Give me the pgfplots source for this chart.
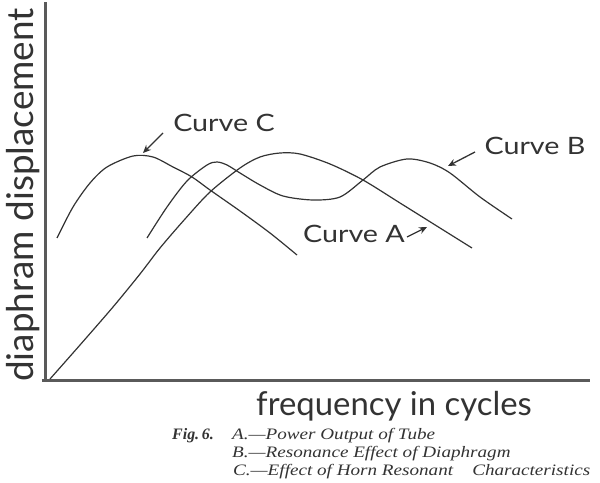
\documentclass[border=0pt]{standalone}
\usepackage{pgfplots}
\pgfplotsset{compat=1.18}
\usepackage{fontspec}
\setmainfont{Liberation Serif}
\newfontfamily\hand{Lato}
\usetikzlibrary{arrows.meta}
\definecolor{ink}{HTML}{333333}
\definecolor{axisink}{HTML}{5A5A5A}
\begin{document}
\begin{tikzpicture}
\begin{axis}[
  x=1bp, y=1bp,
  xmin=46, xmax=590, ymin=0, ymax=378,
  hide axis, clip=false,
]
\path (axis cs:0,-103) rectangle (axis cs:600,380);
% axes
\draw[line width=3bp, axisink] (axis cs:45.5,-1) -- (axis cs:45.5,378);
\draw[line width=3bp, axisink] (axis cs:42,-1) -- (axis cs:590,-1);
% Curve A
\addplot[ink, line width=1.2bp, smooth, tension=0.5] coordinates {
(50,1) (80,35) (113,73) (140,106) (160,132) (185,161) (210,188) (240,212) (260,223) (280,227) (300,226) (330,216) (363,200) (400,177) (440,152) (472,132)};
% Curve B
\addplot[ink, line width=1.2bp, smooth, tension=0.5] coordinates {
(147,142) (167,173) (187,199) (207,215) (217,218) (227,215) (240,207) (260,195) (283,184) (313,180) (340,183) (363,200) (380,213) (407,221) (430,217) (450,207) (480,183) (512,161)};
% Curve C
\addplot[ink, line width=1.2bp, smooth, tension=0.5] coordinates {
(57,142) (73,173) (90,197) (107,213) (133,224) (153,223) (173,213) (192,203) (210,190) (240,169) (270,147) (297,125)};
% labels
\begin{scope}[every node/.style={ink, font=\hand\fontsize{24}{24}\selectfont}]
\node at (axis cs:224,257) {\scalebox{1.2}[1]{Curve C}};
\node at (axis cs:535,234) {\scalebox{1.2}[1]{Curve B}};
\node at (axis cs:354,146) {\scalebox{1.2}[1]{Curve A}};
\end{scope}
\draw[ink, line width=1.3bp, -{Stealth[length=8bp,width=7bp]}] (axis cs:163,247) -- (axis cs:143,227);
\draw[ink, line width=1.3bp, -{Stealth[length=8bp,width=7bp]}] (axis cs:475,228) -- (axis cs:448,214);
\draw[ink, line width=1.3bp, -{Stealth[length=8bp,width=7bp]}] (axis cs:407,143) -- (axis cs:427,153);
% axis labels
\node[ink, rotate=90, font=\hand\fontsize{37}{37}\selectfont] at (axis cs:23,185) {diaphram displacement};
\node[ink, font=\hand\fontsize{33}{33}\selectfont] at (axis cs:394,-26) {frequency in cycles};
% caption
\begin{scope}[every node/.style={ink, anchor=base west, inner sep=0pt, font=\itshape\fontsize{16}{16}\selectfont}]
\node at (axis cs:172,-59) {\textbf{Fig.\,6.}};
\node at (axis cs:232,-59) {\scalebox{1.2}[1]{A.---Power Output of Tube}};
\node at (axis cs:232,-77) {\scalebox{1.2}[1]{B.---Resonance Effect of Diaphragm}};
\node at (axis cs:233,-95) {\scalebox{1.2}[1]{C.---Effect of Horn Resonant\quad Characteristics}};
\end{scope}
\end{axis}
\end{tikzpicture}
\end{document}
